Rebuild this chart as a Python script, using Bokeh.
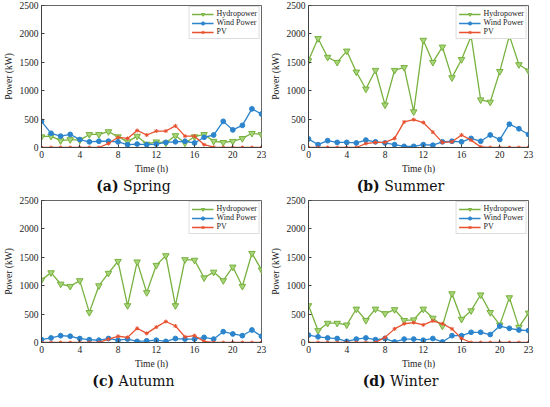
from bokeh.plotting import figure
from bokeh.models import Div, Legend, LegendItem, FixedTicker, Range1d
from bokeh.layouts import column, row
from bokeh.embed import file_html
from bokeh.resources import INLINE

hours = list(range(24))
x_ticks = [0, 4, 8, 12, 16, 20, 23]
y_ticks = [0, 500, 1000, 1500, 2000, 2500]

spring_hydro = [190, 200, 120, 140, 130, 230, 230, 280, 190, 100, 200, 60, 100, 80, 210, 80, 190, 230, 110, 90, 110, 160, 250, 230]
spring_wind = [460, 250, 200, 230, 140, 100, 110, 110, 100, 50, 60, 50, 60, 90, 100, 110, 80, 180, 220, 460, 310, 390, 680, 590]
spring_pv = [0, 0, 0, 0, 0, 0, 0, 70, 180, 160, 300, 220, 290, 290, 380, 200, 200, 50, 5, 0, 0, 0, 0, 0]

summer_hydro = [1530, 1920, 1590, 1500, 1700, 1330, 1030, 1360, 750, 1360, 1410, 630, 1890, 1500, 1770, 1230, 1550, 1960, 840, 800, 1340, 1970, 1460, 1350]
summer_wind = [150, 50, 120, 90, 90, 80, 130, 100, 80, 50, 20, 20, 50, 40, 100, 110, 100, 160, 110, 220, 140, 410, 330, 230]
summer_pv = [0, 0, 0, 0, 0, 0, 70, 90, 90, 160, 450, 490, 440, 270, 90, 100, 220, 130, 10, 0, 0, 0, 0, 0]

autumn_hydro = [1100, 1230, 1030, 990, 1090, 530, 1000, 1220, 1430, 650, 1420, 880, 1360, 1530, 650, 1460, 1450, 1140, 1240, 1090, 1330, 990, 1570, 1280]
autumn_wind = [50, 80, 120, 110, 70, 50, 40, 70, 40, 60, 20, 30, 40, 20, 70, 60, 60, 90, 60, 190, 150, 120, 220, 110]
autumn_pv = [0, 0, 0, 0, 0, 0, 0, 60, 110, 90, 250, 160, 270, 370, 290, 100, 120, 20, 0, 0, 0, 0, 0, 0]

winter_hydro = [650, 210, 340, 340, 310, 590, 390, 590, 510, 580, 390, 400, 590, 430, 290, 860, 410, 560, 840, 530, 310, 790, 270, 520]
winter_wind = [130, 100, 80, 70, 20, 60, 80, 50, 70, 10, 60, 60, 40, 70, 10, 120, 120, 180, 180, 140, 290, 250, 220, 210]
winter_pv = [0, 0, 0, 0, 0, 0, 0, 0, 90, 240, 330, 350, 310, 380, 330, 240, 70, 0, 0, 0, 0, 0, 0, 0]

series_names = ["Hydropower", "Wind Power", "PV"]
panels = [
    ("(a)", "Spring", spring_hydro, spring_wind, spring_pv),
    ("(b)", "Summer", summer_hydro, summer_wind, summer_pv),
    ("(c)", "Autumn", autumn_hydro, autumn_wind, autumn_pv),
    ("(d)", "Winter", winter_hydro, winter_wind, winter_pv),
]

GREEN = "#77B13E"
BLUE = "#2B84CC"
RED = "#E8502F"
SERIF = "Liberation Serif"
AX = "#404040"


def make_panel(tag, season, hydro, wind, pv):
    p = figure(width=267, height=176, output_backend="svg", toolbar_location=None,
               x_range=Range1d(0, 23), y_range=Range1d(0, 2500),
               min_border_left=4, min_border_right=6, min_border_top=5, min_border_bottom=2)
    p.grid.visible = False
    p.outline_line_color = AX
    p.outline_line_width = 0.8
    p.background_fill_color = "white"
    p.border_fill_color = "white"

    for ax in (p.xaxis[0], p.yaxis[0]):
        ax.major_tick_in = 3
        ax.major_tick_out = 0
        ax.minor_tick_in = 0
        ax.minor_tick_out = 0
        ax.axis_line_color = AX
        ax.major_tick_line_color = AX
        ax.major_label_text_font = SERIF
        ax.major_label_text_font_size = "9.5px"
        ax.major_label_text_color = "#222222"
        ax.axis_label_text_font = SERIF
        ax.axis_label_text_font_size = "9.5px"
        ax.axis_label_text_font_style = "normal"
        ax.axis_label_text_color = "#222222"
        ax.major_label_standoff = 3
        ax.axis_label_standoff = 3
    p.xaxis.ticker = FixedTicker(ticks=x_ticks)
    p.yaxis.ticker = FixedTicker(ticks=y_ticks)
    p.xaxis.axis_label = "Time (h)"
    p.yaxis.axis_label = "Power (kW)"

    rh = p.line(hours, hydro, line_color=GREEN, line_width=1.3)
    mh = p.scatter(hours, hydro, marker="inverted_triangle", size=6.5,
                   fill_color="#A8D47A", line_color=GREEN, line_width=1)
    rw = p.line(hours, wind, line_color=BLUE, line_width=1.3)
    mw = p.scatter(hours, wind, marker="circle", size=4.8,
                   fill_color=BLUE, line_color=BLUE)
    rp = p.line(hours, pv, line_color=RED, line_width=1.3)
    mp = p.scatter(hours, pv, marker="asterisk", size=4, line_color=RED, line_width=1)

    legend = Legend(items=[
        LegendItem(label=series_names[0], renderers=[rh, mh]),
        LegendItem(label=series_names[1], renderers=[rw, mw]),
        LegendItem(label=series_names[2], renderers=[rp, mp]),
    ], location="top_right")
    legend.label_text_font = SERIF
    legend.label_text_font_size = "8px"
    legend.label_text_color = "#222222"
    legend.label_height = 8
    legend.glyph_height = 8
    legend.glyph_width = 22
    legend.spacing = 0
    legend.padding = 2
    legend.margin = 1
    legend.label_standoff = 3
    legend.border_line_color = "#BBBBBB"
    legend.border_line_width = 0.6
    legend.background_fill_alpha = 1
    p.add_layout(legend)

    d = Div(text=f'<div style="width:267px;text-align:center;font-family:\'DejaVu Serif\',serif;'
                 f'font-size:14px;color:#111;"><b>{tag}</b> {season}</div>',
            width=267, height=19, margin=(0, 0, 0, 0))
    return column(p, d, spacing=0)


cols = [make_panel(*pn) for pn in panels]
layout = column(row(cols[0], cols[1], spacing=0), row(cols[2], cols[3], spacing=0), spacing=0)

open("out.html", "w").write(file_html(layout, INLINE))
